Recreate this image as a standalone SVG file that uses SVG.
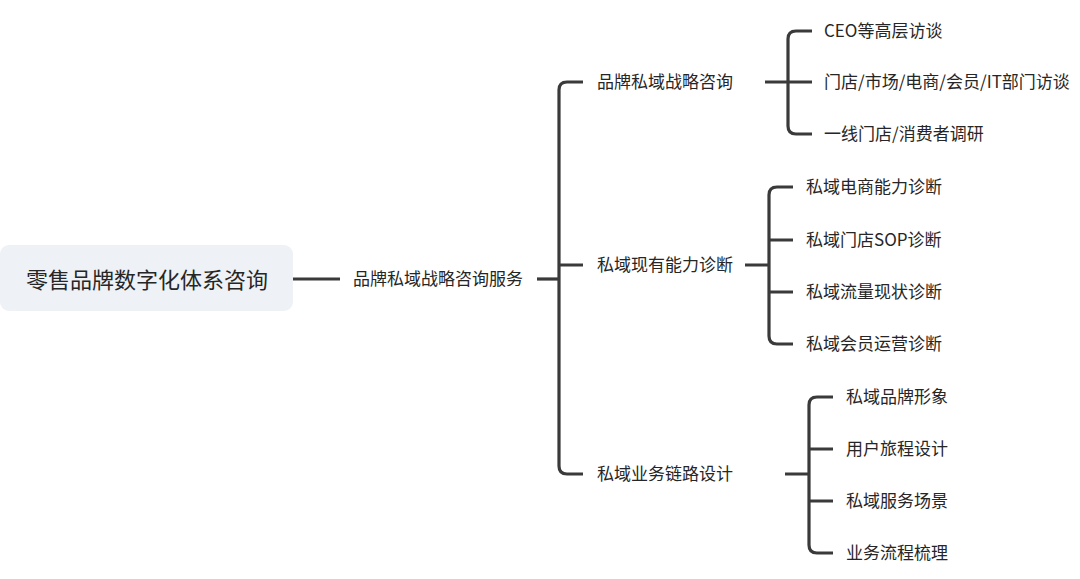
<svg xmlns="http://www.w3.org/2000/svg" width="1080" height="579" viewBox="0 0 1080 579">
<style>
  .ln{fill:none;stroke:#3a3a3a;stroke-width:3.2}
  .t{font-family:"Noto Sans CJK SC","Microsoft YaHei",sans-serif;font-size:17px;fill:#262626;dominant-baseline:central}
  .root{font-size:22px}
</style>
<rect width="1080" height="579" fill="#ffffff"/>
<g id="connectors">
  <path class="ln" d="M293,279 H340"/>
  <path class="ln" d="M537,279 H559"/>
  <path class="ln" d="M583,82 H567 Q559,82 559,90 V466 Q559,474 567,474 H583 M559,265 H583"/>
  <path class="ln" d="M765,82 H788 M812,31 H796 Q788,31 788,39 V126 Q788,134 796,134 H812 M788,82 H812"/>
  <path class="ln" d="M745,265 H769 M793,187 H777 Q769,187 769,195 V336 Q769,344 777,344 H793 M769,240 H793 M769,292 H793"/>
  <path class="ln" d="M785,474 H809 M833,397 H817 Q809,397 809,405 V545 Q809,553 817,553 H833 M809,449 H833 M809,501 H833"/>
</g>
<g id="root">
  <rect x="0" y="245" width="293" height="66" rx="9" fill="#EEF1F5"/>
  <text class="t root" x="147" y="278" text-anchor="middle">零售品牌数字化体系咨询</text>
</g>
<g id="n-service"><text class="t" x="353" y="277.5">品牌私域战略咨询服务</text></g>
<g id="n-strategy"><text class="t" x="597" y="80.5">品牌私域战略咨询</text></g>
<g id="n-ceo"><text class="t" x="824" y="29.5">CEO等高层访谈</text></g>
<g id="n-dept"><text class="t" x="824" y="80.5">门店/市场/电商/会员/IT部门访谈</text></g>
<g id="n-store"><text class="t" x="824" y="132.5">一线门店/消费者调研</text></g>
<g id="n-diag"><text class="t" x="597" y="263.5">私域现有能力诊断</text></g>
<g id="n-ec"><text class="t" x="806" y="185.5">私域电商能力诊断</text></g>
<g id="n-sop"><text class="t" x="806" y="238.5">私域门店SOP诊断</text></g>
<g id="n-flow"><text class="t" x="806" y="290.5">私域流量现状诊断</text></g>
<g id="n-member"><text class="t" x="806" y="342.5">私域会员运营诊断</text></g>
<g id="n-link"><text class="t" x="597" y="472.5">私域业务链路设计</text></g>
<g id="n-brand"><text class="t" x="846" y="395.5">私域品牌形象</text></g>
<g id="n-journey"><text class="t" x="846" y="447.5">用户旅程设计</text></g>
<g id="n-scene"><text class="t" x="846" y="499.5">私域服务场景</text></g>
<g id="n-process"><text class="t" x="846" y="551.5">业务流程梳理</text></g>
</svg>
